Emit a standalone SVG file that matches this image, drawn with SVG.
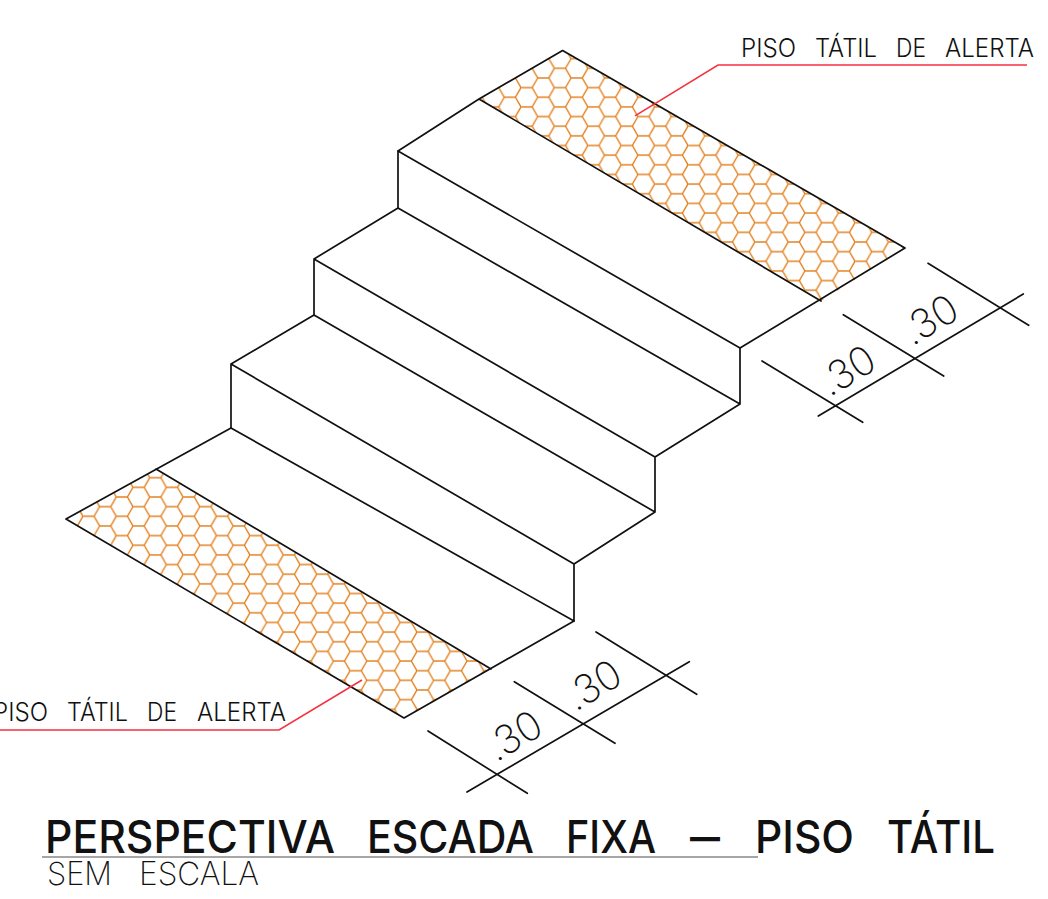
<svg xmlns="http://www.w3.org/2000/svg" width="1048" height="899" viewBox="0 0 1048 899">
<style>
.l{fill:none;stroke:#111;stroke-width:1.7;stroke-linecap:round;stroke-linejoin:round}
.r{fill:none;stroke:#f5303f;stroke-width:1.5}
.u{fill:none;stroke:#888;stroke-width:1.4}
text{font-family:"Inter","Liberation Sans",sans-serif;fill:#111}
.lab{font-size:25px;font-weight:300}
.dim{font-size:40px;font-weight:200}
.tit{font-size:45.5px;font-weight:500}
.sub{font-size:32px;font-weight:200}
</style>
<defs>
<path id="hexp" d="M0,0H11.13L16.7,9.65H27.83L33.4,0M16.7,9.65L11.13,19.3M27.83,9.65L33.4,19.3M0,19.3H11.13" fill="none" stroke="#e2801e" stroke-width="1.4"/>
<pattern id="h1" patternUnits="userSpaceOnUse" x="554.4" y="68.3" width="33.4" height="19.3"><use href="#hexp"/></pattern>
<pattern id="h2" patternUnits="userSpaceOnUse" x="149.7" y="477.7" width="33.4" height="19.3"><use href="#hexp"/></pattern>
</defs>
<rect width="1048" height="899" fill="#fff"/>
<g id="tactile-top"><polygon points="562.6,50.5 905,248 821,301 479,99" fill="url(#h1)"/></g>
<g id="tactile-bottom"><polygon points="156,469 491,669 404,718 66,519" fill="url(#h2)"/></g>
<g id="stairs" class="l">
<path d="M479,99L562.6,50.5L905,248L740,348L398,151L479,99L821,301"/>
<path d="M398,151V208L740,404V348M398,208L314,259L655,457L740,404M314,259V315L655,512V457M314,315L231,364L574,564L655,512M231,364V428L574,621V564"/>
<path d="M231,428L66,519L404,718L574,621M156,469L491,669"/>
</g>
<g id="connectors">
<path class="r" d="M635,115.8L718,65H1027"/>
<path class="r" d="M362,680L279,730H0"/>
</g>
<g id="dim-top" class="l">
<path d="M818.3,416L1023.3,294M762,361L862.7,422.3M843.3,314.7L943.7,376M928,263.3L1028.7,325.3"/>
</g>
<g id="dim-bottom" class="l">
<path d="M467,792L689.3,661.7M428,731L527.3,793.3M514.3,681.7L615,743.3M596,632L696.7,694.3"/>
</g>
<g id="labels">
<text class="dim" transform="translate(829.6,397.3) rotate(-31)">.30</text>
<text class="dim" transform="translate(912.3,346.5) rotate(-31)">.30</text>
<text class="dim" transform="translate(496.3,762.5) rotate(-31)">.30</text>
<text class="dim" transform="translate(575.6,711.9) rotate(-31)">.30</text>
<text class="lab" y="57"><tspan x="741" textLength="55" lengthAdjust="spacingAndGlyphs">PISO</tspan> <tspan x="815" textLength="62" lengthAdjust="spacingAndGlyphs">TÁTIL</tspan> <tspan x="896" textLength="30" lengthAdjust="spacingAndGlyphs">DE</tspan> <tspan x="945" textLength="89" lengthAdjust="spacingAndGlyphs">ALERTA</tspan></text>
<text class="lab" y="721"><tspan x="-7" textLength="55" lengthAdjust="spacingAndGlyphs">PISO</tspan> <tspan x="67" textLength="61" lengthAdjust="spacingAndGlyphs">TÁTIL</tspan> <tspan x="147" textLength="30" lengthAdjust="spacingAndGlyphs">DE</tspan> <tspan x="197" textLength="89" lengthAdjust="spacingAndGlyphs">ALERTA</tspan></text>
<text class="tit" y="853"><tspan x="45" textLength="290" lengthAdjust="spacingAndGlyphs">PERSPECTIVA</tspan> <tspan x="367" textLength="167" lengthAdjust="spacingAndGlyphs">ESCADA</tspan> <tspan x="566" textLength="90" lengthAdjust="spacingAndGlyphs">FIXA</tspan> <tspan x="690" textLength="30" lengthAdjust="spacingAndGlyphs">—</tspan> <tspan x="755" textLength="99" lengthAdjust="spacingAndGlyphs">PISO</tspan> <tspan x="887" textLength="108" lengthAdjust="spacingAndGlyphs">TÁTIL</tspan></text>
<text class="sub" y="885"><tspan x="47" textLength="65" lengthAdjust="spacingAndGlyphs">SEM</tspan> <tspan x="139" textLength="120" lengthAdjust="spacingAndGlyphs">ESCALA</tspan></text>
</g>
<g id="title-rule"><path class="u" d="M42,857H758"/></g>
</svg>
